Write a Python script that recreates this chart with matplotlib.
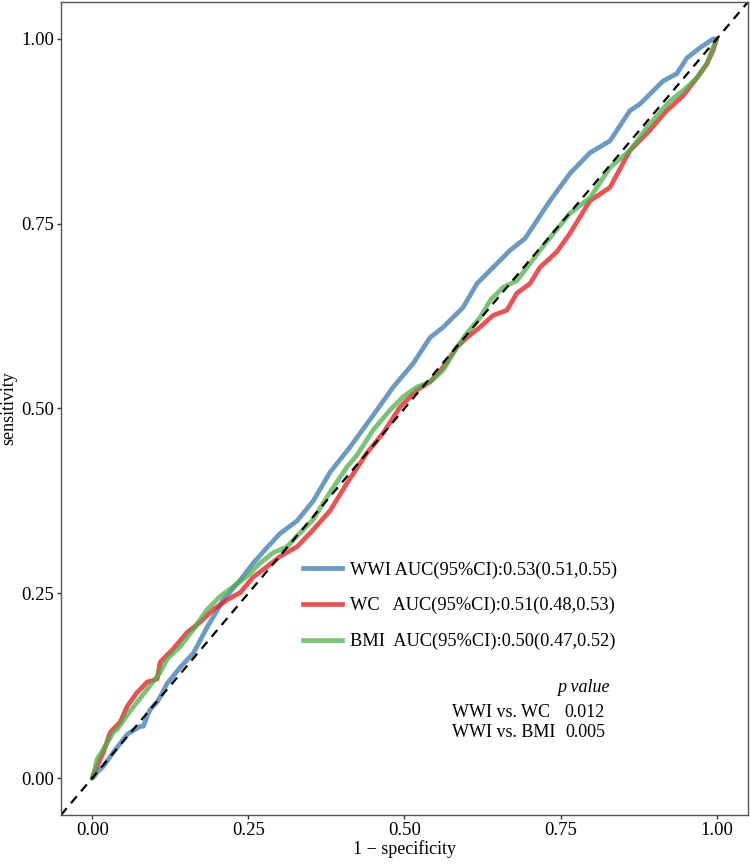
import matplotlib
matplotlib.use("Agg")
import matplotlib.pyplot as plt
from matplotlib.lines import Line2D

plt.rcParams['font.family'] = ['Liberation Serif', 'DejaVu Serif']

# ROC curve data (1-specificity, sensitivity)
wwi_x = [0, 0.002, 0.008, 0.018, 0.034, 0.056, 0.061, 0.077, 0.082, 0.088, 0.093, 0.104, 0.109, 0.12, 0.125,
         0.141, 0.162, 0.184, 0.210, 0.237, 0.258, 0.280, 0.301, 0.328, 0.354, 0.381, 0.413, 0.45, 0.482,
         0.514, 0.541, 0.562, 0.594, 0.616, 0.642, 0.669, 0.693, 0.733, 0.765, 0.797, 0.829, 0.861, 0.877,
         0.914, 0.936, 0.952, 0.973, 0.994, 1.0]
wwi_y = [0, 0.001, 0.008, 0.016, 0.035, 0.059, 0.062, 0.070, 0.070, 0.084, 0.093, 0.103, 0.110, 0.128, 0.133,
         0.150, 0.169, 0.204, 0.241, 0.268, 0.291, 0.312, 0.331, 0.348, 0.375, 0.414, 0.448, 0.491, 0.529,
         0.561, 0.596, 0.610, 0.637, 0.669, 0.691, 0.714, 0.730, 0.781, 0.818, 0.846, 0.862, 0.903, 0.912,
         0.943, 0.953, 0.974, 0.988, 1.0, 1.0]

wc_x = [0, 0.002, 0.018, 0.029, 0.045, 0.056, 0.072, 0.077, 0.088, 0.093, 0.104, 0.109, 0.130, 0.152, 0.173,
        0.194, 0.216, 0.237, 0.258, 0.28, 0.301, 0.328, 0.354, 0.381, 0.408, 0.44, 0.466, 0.493, 0.52, 0.541,
        0.562, 0.584, 0.6, 0.621, 0.642, 0.664, 0.68, 0.701, 0.717, 0.744, 0.765, 0.797, 0.829, 0.861, 0.888,
        0.92, 0.946, 0.968, 0.984, 0.994, 1.0]
wc_y = [0, 0.005, 0.035, 0.062, 0.076, 0.097, 0.116, 0.120, 0.130, 0.131, 0.134, 0.157, 0.175, 0.197, 0.211,
        0.228, 0.241, 0.251, 0.272, 0.286, 0.300, 0.313, 0.336, 0.362, 0.399, 0.440, 0.467, 0.502, 0.525, 0.536,
        0.556, 0.583, 0.596, 0.610, 0.626, 0.633, 0.656, 0.669, 0.691, 0.712, 0.737, 0.781, 0.799, 0.849, 0.872,
        0.903, 0.923, 0.947, 0.966, 0.984, 1.0]

bmi_x = [0, 0.002, 0.008, 0.018, 0.034, 0.040, 0.061, 0.088, 0.109, 0.12, 0.141, 0.162, 0.184, 0.205, 0.226,
         0.248, 0.269, 0.29, 0.312, 0.333, 0.354, 0.381, 0.408, 0.424, 0.45, 0.477, 0.498, 0.52, 0.541, 0.562,
         0.584, 0.6, 0.621, 0.637, 0.658, 0.68, 0.701, 0.717, 0.733, 0.765, 0.797, 0.829, 0.861, 0.888, 0.925,
         0.946, 0.968, 0.984, 0.994, 1.0]
bmi_y = [0, 0.003, 0.026, 0.039, 0.062, 0.066, 0.091, 0.120, 0.143, 0.161, 0.178, 0.201, 0.228, 0.246, 0.259,
         0.273, 0.291, 0.305, 0.313, 0.332, 0.350, 0.387, 0.421, 0.437, 0.471, 0.498, 0.516, 0.529, 0.536, 0.552,
         0.583, 0.602, 0.623, 0.646, 0.664, 0.673, 0.696, 0.714, 0.731, 0.764, 0.785, 0.826, 0.849, 0.880, 0.916,
         0.930, 0.947, 0.966, 0.988, 1.0]

labels = ["WWI AUC(95%CI):0.53(0.51,0.55)",
          "WC   AUC(95%CI):0.51(0.48,0.53)",
          "BMI  AUC(95%CI):0.50(0.47,0.52)"]
colors = ["#3A78B0", "#E41A1C", "#4DAF4A"]
ticks = [0.00, 0.25, 0.50, 0.75, 1.00]
tick_labels = ["0.00", "0.25", "0.50", "0.75", "1.00"]
pvals = [("WWI vs. WC", "0.012"), ("WWI vs. BMI", "0.005")]

fig = plt.figure(figsize=(7.5, 8.64), dpi=100)
ax = fig.add_axes([0.0813, 0.0567, 0.916, 0.941])

for xs, ys, c in zip([wwi_x, wc_x, bmi_x], [wwi_y, wc_y, bmi_y], colors):
    ax.plot(xs, ys, color=c, alpha=0.75, lw=3.4, solid_joinstyle='round', solid_capstyle='round')

ax.plot([-0.05, 1.05], [-0.05, 1.05], color='black', ls=(0, (4, 3)), lw=1.6)

ax.set_xlim(-0.05, 1.05)
ax.set_ylim(-0.05, 1.05)
ax.set_xticks(ticks)
ax.set_xticklabels(tick_labels)
ax.set_yticks(ticks)
ax.set_yticklabels(tick_labels)
ax.tick_params(axis='both', labelsize=13.5, length=3, width=1, color='#333333', pad=2)
for s in ax.spines.values():
    s.set_color('#555555')
    s.set_linewidth(1)
ax.set_xlabel("1 − specificity", fontsize=13, labelpad=1)
ax.set_ylabel("sensitivity", fontsize=13, labelpad=3)

handles = [Line2D([0], [0], color=c, alpha=0.75, lw=3.4) for c in colors]
ax.legend(handles, labels, loc='upper left', bbox_to_anchor=(0.338, 0.293),
          bbox_transform=ax.transData, borderaxespad=0, borderpad=0, frameon=False,
          fontsize=13.2, handlelength=2.1, handletextpad=0.45, labelspacing=1.0)

ax.text(0.829, 0.122, "p value", style='italic', fontsize=13, ha='right', va='center')
for i, (name, p) in enumerate(pvals):
    y = 0.089 - i * 0.027
    ax.text(0.576, y, name, fontsize=13, ha='left', va='center')
    ax.text(0.821, y, p, fontsize=13, ha='right', va='center')

fig.savefig("out.png", dpi=100)
